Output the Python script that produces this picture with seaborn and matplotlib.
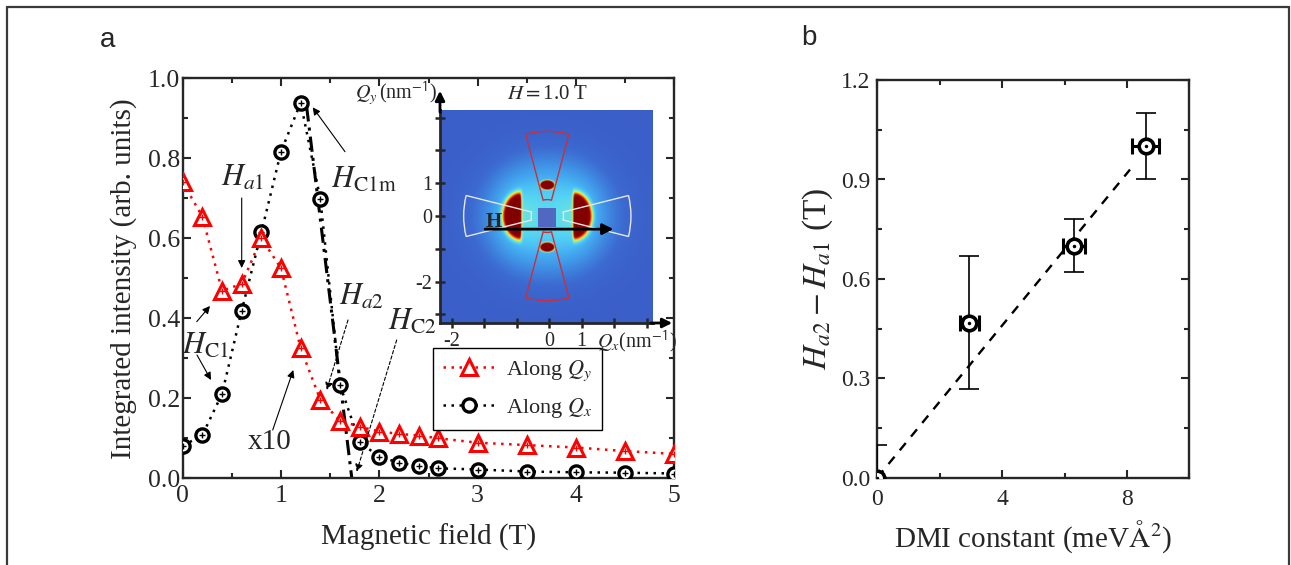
import numpy as np
import matplotlib
matplotlib.use("Agg")
import matplotlib.pyplot as plt
import seaborn as sns
from matplotlib.colors import LinearSegmentedColormap
from matplotlib.patches import Wedge, Rectangle
from matplotlib.lines import Line2D
from matplotlib.ticker import MultipleLocator, FixedLocator

# ---------------- data ----------------
# (a) integrated SANS intensity vs. magnetic field
field = [0.0, 0.2, 0.4, 0.6, 0.8, 1.0, 1.2, 1.4, 1.6, 1.8, 2.0, 2.2, 2.4, 2.6,
         3.0, 3.5, 4.0, 4.5, 5.0]
int_qy = [0.74, 0.654, 0.469, 0.486, 0.600, 0.525, 0.325, 0.196, 0.144, 0.129,
          0.117, 0.111, 0.107, 0.100, 0.089, 0.083, 0.077, 0.068, 0.061]
int_qx = [0.081, 0.108, 0.211, 0.419, 0.615, 0.817, 0.939, 0.698, 0.233, 0.090,
          0.054, 0.039, 0.031, 0.025, 0.022, 0.017, 0.015, 0.014, 0.012]
# guide for the steep drop above the maximum
drop_x = [1.26, 1.72]
drop_y = [0.93, 0.0]

# (b) field window vs. DMI constant
dmi = [0.0, 2.95, 6.3, 8.6]
dmi_err = [0.0, 0.3, 0.35, 0.43]
dh = [0.0, 0.468, 0.70, 1.0]
dh_err = [0.1, 0.2, 0.08, 0.1]
fit_x = [0.0, 8.1]
fit_y = [0.0, 0.93]

W, H = 1291, 565
sns.set_theme(style="ticks")
plt.rcParams["font.family"] = ["Liberation Serif", "DejaVu Serif"]
plt.rcParams["mathtext.fontset"] = "stix"
plt.rcParams["axes.linewidth"] = 1.7

fig = plt.figure(figsize=(W / 100, H / 100), dpi=100)
fig.patch.set_facecolor("white")

def frac(x0, y0, x1, y1):
    return [x0 / W, 1 - y1 / H, (x1 - x0) / W, (y1 - y0) / H]

ax_a = fig.add_axes(frac(182.7, 78.3, 674.3, 478.3))
ax_b = fig.add_axes(frac(877.3, 80.1, 1189.3, 477.7))
ax_in = fig.add_axes(frac(440, 110, 653, 323))

# frame around the whole figure
frame_kw = dict(color="#3a3a3a", lw=1.6, transform=fig.transFigure)
fig.add_artist(Line2D([7 / W, 7 / W], [0, 1 - 7 / H], **frame_kw))
fig.add_artist(Line2D([7 / W, 1289 / W], [1 - 7 / H, 1 - 7 / H], **frame_kw))
fig.add_artist(Line2D([1289 / W, 1289 / W], [0, 1 - 7 / H], **frame_kw))

fig.text(100 / W, 1 - 40 / H, "a", family="Liberation Sans", fontsize=20, va="center")
fig.text(801 / W, 1 - 38 / H, "b", family="Liberation Sans", fontsize=20, va="center")

# ---------------- panel a ----------------
sns.lineplot(x=field, y=int_qx, ax=ax_a, color="black", linestyle=(0, (1, 2.2)),
             linewidth=1.8, marker="o", markersize=9.5, markerfacecolor="white",
             markeredgecolor="black", markeredgewidth=2.4, label="Along $Q_x$",
             zorder=3)
sns.lineplot(x=field, y=int_qy, ax=ax_a, color="red", linestyle=(0, (1, 2.2)),
             linewidth=1.8, marker="^", markersize=11.5, markerfacecolor="white",
             markeredgecolor="red", markeredgewidth=2.2, label="Along $Q_y$",
             zorder=4)
ax_a.plot(field, int_qx, ls="none", marker="+", ms=5, mew=1.0, color="black", zorder=3.5)
ax_a.plot(field, int_qy, ls="none", marker="+", ms=5, mew=1.0, color="red", zorder=4.5)
ax_a.plot(drop_x, drop_y, color="black", lw=2.2, linestyle=(0, (5, 2, 1, 2)), zorder=2.5)

ax_a.set_xlim(0, 5)
ax_a.set_ylim(0, 1.0)
ax_a.xaxis.set_major_locator(MultipleLocator(1))
ax_a.xaxis.set_minor_locator(MultipleLocator(0.5))
ax_a.yaxis.set_major_locator(MultipleLocator(0.2))
ax_a.yaxis.set_minor_locator(MultipleLocator(0.1))
ax_a.yaxis.set_major_formatter(matplotlib.ticker.FormatStrFormatter("%.1f"))
ax_a.tick_params(which="both", direction="in", top=True, right=True, width=1.5)
ax_a.tick_params(which="major", length=5.5, labelsize=18.5)
ax_a.tick_params(which="minor", length=3.5)
ax_a.tick_params(axis="y", pad=2)
ax_a.tick_params(axis="x", pad=5)
ax_a.set_xlabel("Magnetic field (T)", fontsize=21, labelpad=12)
ax_a.set_ylabel("Integrated intensity (arb. units)", fontsize=21, labelpad=8)

handles, labels = ax_a.get_legend_handles_labels()
order = [labels.index("Along $Q_y$"), labels.index("Along $Q_x$")]
leg = ax_a.legend([handles[i] for i in order], [labels[i] for i in order],
                  loc="upper left", bbox_to_anchor=(0.51, 0.325), fontsize=16,
                  frameon=True, fancybox=False, edgecolor="black", framealpha=1,
                  handlelength=2.3, borderpad=0.45, labelspacing=0.6,
                  handletextpad=0.5, borderaxespad=0)
leg.get_frame().set_linewidth(1.0)

def px(xp, yp):
    return ((xp - 182.7) / 98.32, (478.3 - yp) / 400.0)

note_fs = 22
arrow_solid = dict(arrowstyle="-|>", color="black", lw=0.8, mutation_scale=11,
                   shrinkA=0, shrinkB=0)
arrow_dash = dict(arrowstyle="-|>", color="black", lw=0.8, mutation_scale=11,
                  shrinkA=0, shrinkB=0, linestyle=(0, (3, 2)))

notes = [
    (r"$H_{a1}$", (243, 178), [((241.7, 198), (241.7, 268), arrow_solid)]),
    (r"$H_{\mathrm{C1m}}$", (364, 180), [((345, 151.7), (312.7, 107.3), arrow_solid)]),
    (r"$H_{\mathrm{C1}}$", (205, 346), [((196.7, 321.7), (210, 306), arrow_solid),
                                         ((197, 355), (211, 380), arrow_solid)]),
    ("x10", (269.5, 442), [((272.7, 430), (293.3, 370), arrow_solid)]),
    (r"$H_{a2}$", (362, 297.5), [((348, 320), (326.7, 390), arrow_dash)]),
    (r"$H_{\mathrm{C2}}$", (412.5, 322.5), [((396.7, 340), (356.7, 471.7), arrow_dash)]),
]
for text, pos, arrows in notes:
    ax_a.text(*px(*pos), text, fontsize=note_fs if text != "x10" else 21,
              ha="center", va="center", zorder=6)
    for tail, head, props in arrows:
        ax_a.annotate("", xy=px(*head), xytext=px(*tail), arrowprops=props, zorder=6)

# ---------------- inset: SANS pattern ----------------
qx_min, qx_max, qy_min, qy_max = -3.37, 3.2, -3.26, 3.23
qx = np.linspace(qx_min, qx_max, 420)
qy = np.linspace(qy_min, qy_max, 420)
QX, QY = np.meshgrid(qx, qy)
cx, cy = -0.06, 0.0
X, Y = QX - cx, QY - cy
rho = np.sqrt((X / 2.0) ** 2 + (Y / 1.8) ** 2)
halo = (0.47 * np.exp(-rho ** 2.5)
        + 0.10 * np.exp(-((np.abs(X) - 1.0) / 0.6) ** 2 - (Y / 1.0) ** 2))
g1 = ((np.abs(X) - 0.79) / 0.62) ** 2 + (Y / 0.77) ** 2
spot1 = np.exp(-g1 ** 4) / (1 + np.exp(-(np.abs(X) - 0.80) / 0.02))
g2 = (X / 0.24) ** 2 + ((np.abs(Y) - 0.95) / 0.155) ** 2
spot2 = np.exp(-g2 ** 4)
intensity = np.clip(halo + (1.05 - halo) * np.maximum(spot1, spot2), 0, 1)

sans_cmap = LinearSegmentedColormap.from_list("sans", [
    (0.00, "#3b5fc8"), (0.10, "#3c6ad0"), (0.22, "#3f8ee4"), (0.34, "#45b0f2"),
    (0.46, "#55d4f4"), (0.56, "#70ecd8"), (0.63, "#c0f060"), (0.69, "#f4ec30"),
    (0.76, "#f8a020"), (0.84, "#e02818"), (0.91, "#8e0606"), (1.00, "#820000")])
ax_in.imshow(intensity, extent=[qx_min, qx_max, qy_min, qy_max], origin="lower",
             cmap=sans_cmap, vmin=0, vmax=1, aspect="auto", interpolation="bilinear")
ax_in.add_patch(Rectangle((cx - 0.28, -0.33), 0.56, 0.56, color="#5068c2", lw=0))
for t1, t2, col in [(75, 105, "#c8303c"), (255, 285, "#c8303c"),
                    (-14, 14, "#e6e6e6"), (166, 194, "#e6e6e6")]:
    ax_in.add_patch(Wedge((cx, cy), 2.58, t1, t2, width=2.08, fill=False,
                          edgecolor=col, lw=1.0))
ax_in.annotate("", xy=(1.98, -0.4), xytext=(-1.98, -0.4),
               arrowprops=dict(arrowstyle="-|>", color="black", lw=2.0,
                               mutation_scale=16, shrinkA=0, shrinkB=0))
ax_in.text(-1.7, -0.18, "H", fontsize=15, fontweight="bold", ha="center", va="center")
ax_in.set_xlim(qx_min, qx_max)
ax_in.set_ylim(qy_min, qy_max)
for side in ["top", "right"]:
    ax_in.spines[side].set_visible(False)
for side in ["left", "bottom"]:
    ax_in.spines[side].set_linewidth(2.0)
ax_in.xaxis.set_major_locator(FixedLocator(range(-3, 4)))
ax_in.yaxis.set_major_locator(FixedLocator(range(-3, 4)))
ax_in.set_xticklabels(["-2", "", "", "0", "1", "", ""])
ax_in.set_yticklabels(["", "-2", "", "0", "1", "", ""])
ax_in.tick_params(direction="inout", length=7, width=1.8, labelsize=14.5, pad=3)
ax_in.tick_params(axis="y", pad=2)
arrow_axis = dict(arrowstyle="-|>", color="black", lw=2.0, mutation_scale=14,
                  shrinkA=0, shrinkB=0)
ax_in.annotate("", xy=(0, 1.09), xytext=(0, 0.99), xycoords="axes fraction",
               arrowprops=arrow_axis, annotation_clip=False)
ax_in.annotate("", xy=(1.09, 0), xytext=(0.99, 0), xycoords="axes fraction",
               arrowprops=arrow_axis, annotation_clip=False)
ax_in.plot([0, 0], [0.99, 1.0], transform=ax_in.transAxes, color="black", lw=2.0,
           clip_on=False)
ax_in.plot([0.99, 1.0], [0, 0], transform=ax_in.transAxes, color="black", lw=2.0,
           clip_on=False)
ax_in.text(-0.015, 1.08, r"$Q_y\,$(nm$^{\mathsf{-1}}$)", transform=ax_in.transAxes,
           fontsize=14.5, ha="right", va="center")
ax_in.text(0.507, 1.075, r"$H = $1.0 T", transform=ax_in.transAxes,
           fontsize=15, ha="center", va="center")
ax_in.text(0.735, -0.09, r"$Q_x$(nm$^{\mathsf{-1}}$)", transform=ax_in.transAxes,
           fontsize=14.5, ha="left", va="center")

# ---------------- panel b ----------------
ax_b.plot(fit_x, fit_y, color="black", lw=1.7, linestyle=(0, (4, 3.5)), zorder=2)
ax_b.errorbar(dmi, dh, yerr=dh_err, fmt="none", ecolor="black", elinewidth=1.2,
              capsize=7, capthick=1.2, zorder=3)
ax_b.errorbar(dmi[1:], dh[1:], xerr=dmi_err[1:], fmt="none", ecolor="black",
              elinewidth=2.2, capsize=5.5, capthick=2.2, zorder=3)
sns.scatterplot(x=dmi, y=dh, ax=ax_b, marker="o", s=110, facecolor="white",
                edgecolor="black", linewidth=2.6, zorder=4)
ax_b.plot(dmi, dh, ls="none", marker=".", ms=3, color="black", zorder=5)
ax_b.set_xlim(0, 10)
ax_b.set_ylim(0, 1.2)
ax_b.xaxis.set_major_locator(MultipleLocator(4))
ax_b.xaxis.set_minor_locator(MultipleLocator(2))
ax_b.yaxis.set_major_locator(MultipleLocator(0.3))
ax_b.yaxis.set_minor_locator(MultipleLocator(0.15))
ax_b.yaxis.set_major_formatter(matplotlib.ticker.FormatStrFormatter("%.1f"))
ax_b.tick_params(which="both", direction="in", top=True, right=True, width=1.5)
ax_b.tick_params(which="major", length=5.5, labelsize=17)
ax_b.tick_params(which="minor", length=3.5)
ax_b.tick_params(axis="y", pad=5)
ax_b.tick_params(axis="x", pad=8)
ax_b.set_xlabel(r"DMI constant (meV$\mathrm{\AA}^{2}$)", fontsize=21, labelpad=6)
ax_b.set_ylabel(r"$H_{a2}-H_{a1}$ (T)", fontsize=24, labelpad=4)

fig.savefig("out.png", dpi=100)
